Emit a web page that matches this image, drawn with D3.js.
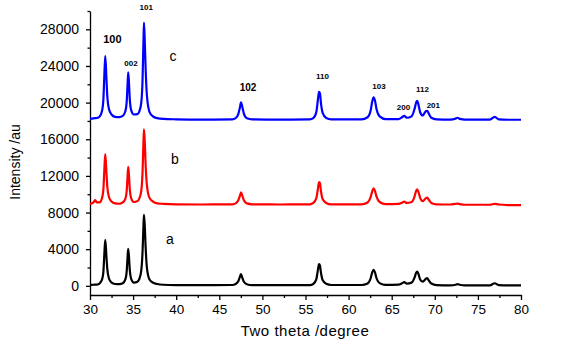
<!DOCTYPE html>
<html><head><meta charset="utf-8">
<script src="https://cdn.jsdelivr.net/npm/d3@7"></script>
<style>
body{margin:0;background:#fff;}
text{font-family:"Liberation Sans",Arial,sans-serif;}
</style></head>
<body><svg id="chart" width="561" height="348"></svg>
<script>
const twoTheta = [30.0,30.4,30.6,30.8,31.1,31.4,31.55,31.65,31.77,31.9,32.0,32.2,32.5,32.9,33.4,
 33.8,34.1,34.25,34.35,34.43,34.52,34.62,34.8,35.1,35.5,
 35.7,35.95,36.1,36.2,36.26,36.35,36.45,36.6,36.9,37.3,37.8,38.5,40,43,46.5,
 46.9,47.2,47.4,47.52,47.65,47.85,48.2,48.8,52,55.5,
 55.9,56.25,56.45,56.57,56.68,56.8,57.0,57.4,58.0,61.5,
 62.2,62.55,62.75,62.9,63.05,63.25,63.6,64.3,65.8,
 66.2,66.45,66.75,
 67.3,67.65,67.85,67.95,68.1,68.3,68.6,
 68.8,69.0,69.12,69.3,69.6,70.2,
 71.8,72.4,72.65,72.9,73.5,76.4,76.95,77.4,78.5,80];

const seriesA = [100,120,130,140,250,700,1500,3200,5010,3300,1900,800,350,200,180,
 280,700,1500,3000,4030,3200,1700,700,350,450,
 700,1700,3800,6500,7740,6600,4300,2000,700,350,200,120,80,70,90,
 200,500,1000,1270,950,450,180,80,70,80,
 200,700,1800,2370,2200,1400,600,220,90,90,
 250,800,1500,1740,1500,800,300,100,130,
 280,400,250,
 350,900,1450,1560,1300,700,450,
 600,800,840,600,250,80,
 60,120,185,120,50,60,280,80,50,50];

const seriesB = [8950,9100,9370,9100,9100,9600,10500,12400,14390,12500,10900,9700,9200,9000,8960,
 9100,9500,10300,11800,13000,12100,10500,9500,9150,9250,
 9500,10400,12500,15700,17080,15800,13300,11000,9600,9200,9000,8950,8900,8880,8900,
 9000,9350,9850,10210,9900,9350,9000,8900,8880,8900,
 9050,9550,10650,11330,11200,10300,9450,9050,8900,8900,
 9100,9650,10350,10650,10400,9700,9150,8920,8950,
 9080,9190,9050,
 9150,9750,10400,10540,10250,9600,9250,
 9400,9580,9620,9400,9050,8900,
 8880,8950,8980,8920,8850,8850,8950,8880,8820,8800];

const seriesC = [18250,18280,18300,18320,18450,19100,20300,22600,25100,22800,20800,19300,18700,18450,18420,
 18550,19050,20000,21800,23300,22200,20300,19100,18700,18750,
 19000,20000,22600,26600,28740,26800,23800,20800,19000,18500,18300,18220,18180,18150,18170,
 18300,18750,19500,20020,19600,18800,18300,18180,18150,18170,
 18300,18950,20400,21180,21000,19900,18850,18330,18180,18170,
 18400,19100,20150,20570,20250,19250,18500,18200,18200,
 18400,18560,18350,
 18500,19300,20050,20200,19800,18950,18600,
 18850,19080,19110,18800,18350,18180,
 18150,18250,18350,18220,18140,18150,18450,18180,18130,18130];

const seriesNames = ["a","b","c"];
const seriesColors = ["#000000","#ff0000","#0000ff"];
const xTicks = [30,35,40,45,50,55,60,65,70,75,80];
const xMinor = [32.5,37.5,42.5,47.5,52.5,57.5,62.5,67.5,72.5,77.5];
const yTicks = [0,4000,8000,12000,16000,20000,24000,28000];
const yMinor = [2000,6000,10000,14000,18000,22000,26000,30000];
const peakLabels = ["100","002","101","102","110","103","200","112","201"];
const peakLabelX = [32.6,34.76,36.53,48.33,56.97,63.53,66.37,68.57,69.83];
const peakLabelY = [26800,24200,30300,21600,22800,21700,19400,21400,19600];
const peakLabelSize = [11,8,8,10,8,8,8,8,8];
const peakLabelBold = [true,true,true,true,true,true,true,true,true];
const seriesLabelX = [39.28,39.86,39.63];
const seriesLabelY = [5000,13700,25000];

const svg = d3.select("#chart");
const x = d3.scaleLinear().domain([30,80]).range([90,521]);
const y = d3.scaleLinear().domain([-1000,30000]).range([295,11]);
const fmt = d3.format("d");

// axes
const xAxis = svg.append("g").attr("transform","translate(0,295)")
  .call(d3.axisBottom(x).tickValues(xTicks).tickSize(5).tickSizeOuter(0).tickPadding(4).tickFormat(fmt));
svg.append("g").attr("transform","translate(0,295)")
  .call(d3.axisBottom(x).tickValues(xMinor).tickSize(3).tickSizeOuter(0).tickFormat(""))
  .select(".domain").remove();
const yAxis = svg.append("g").attr("transform","translate(90,0)")
  .call(d3.axisLeft(y).tickValues(yTicks).tickSize(4).tickSizeOuter(0).tickPadding(7).tickFormat(fmt));
svg.append("g").attr("transform","translate(90,0)")
  .call(d3.axisLeft(y).tickValues(yMinor).tickSize(2.5).tickSizeOuter(0).tickFormat(""))
  .select(".domain").remove();
svg.selectAll(".domain").attr("stroke","#000").attr("stroke-width",1.3);
svg.selectAll(".tick line").attr("stroke","#000").attr("stroke-width",1.3);
xAxis.selectAll("text").attr("font-size",13.5).attr("font-family","Liberation Sans, Arial").attr("fill","#000");
yAxis.selectAll("text").attr("font-size",14).attr("font-family","Liberation Sans, Arial").attr("fill","#000");

// series
const data = [seriesA, seriesB, seriesC];
const line = d3.line().x((d,i)=>x(twoTheta[i])).y(d=>y(d)).curve(d3.curveMonotoneX);
data.forEach((s,k)=>{
  svg.append("path").datum(s).attr("d",line).attr("fill","none")
    .attr("stroke",seriesColors[k]).attr("stroke-width",2.2).attr("stroke-linejoin","round");
});

// series labels
seriesNames.forEach((n,k)=>{
  svg.append("text").attr("x",x(seriesLabelX[k])).attr("y",y(seriesLabelY[k]))
    .attr("font-size",14).attr("text-anchor","middle").attr("dominant-baseline","middle").text(n);
});

// peak labels
peakLabels.forEach((t,k)=>{
  svg.append("text").attr("x",x(peakLabelX[k])).attr("y",y(peakLabelY[k]))
    .attr("font-size",peakLabelSize[k]).attr("font-weight",peakLabelBold[k]?"bold":"normal")
    .attr("text-anchor","middle").attr("dominant-baseline","middle").attr("fill","#000").text(t);
});

// axis titles
svg.append("text").attr("x",305).attr("y",332).attr("text-anchor","middle")
  .attr("dominant-baseline","middle").attr("font-size",15).attr("letter-spacing",0.5).text("Two theta /degree");
svg.append("text").attr("transform","translate(16,162) rotate(-90)").attr("text-anchor","middle")
  .attr("dominant-baseline","middle").attr("font-size",14).text("Intensity /au");
</script></body></html>
